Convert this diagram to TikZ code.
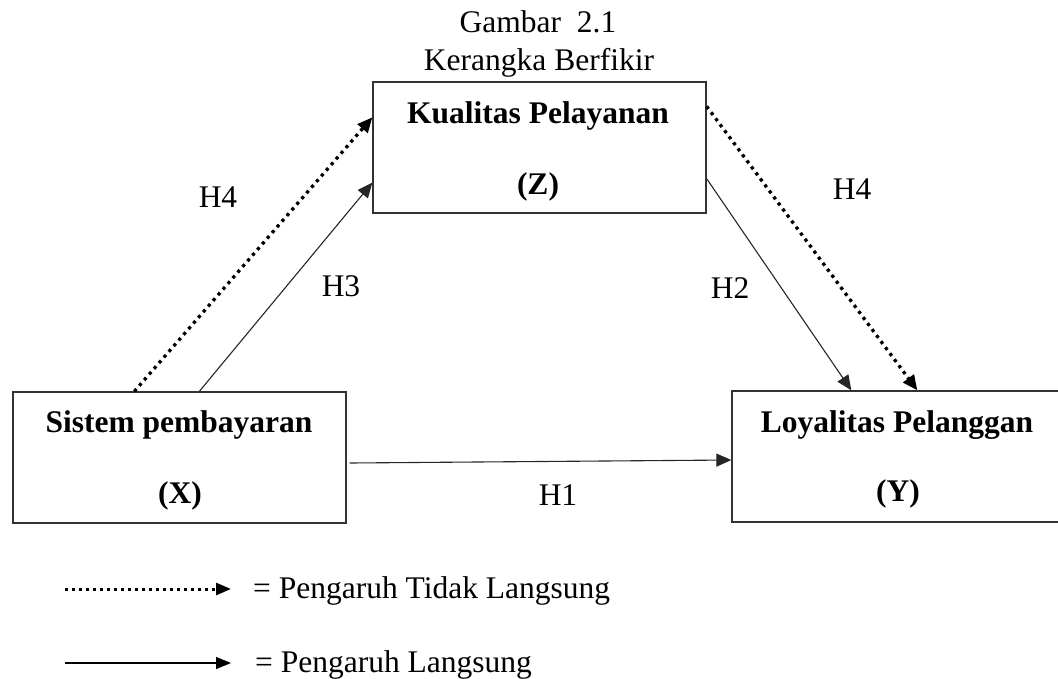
\documentclass[tikz,border=0pt]{standalone}
\usepackage{fontspec}
\setmainfont{Liberation Serif}
\usetikzlibrary{arrows.meta}
\begin{document}
\begin{tikzpicture}[x=1pt,y=-1pt,
  box/.style={draw=black!80,line width=1.3pt,rectangle,inner sep=0pt,minimum width=333pt,minimum height=131pt},
  txt/.style={inner sep=0pt,anchor=base,font=\fontsize{31.5}{36}\selectfont},
  btxt/.style={txt,font=\fontsize{31.5}{36}\selectfont\bfseries},
  ltxt/.style={txt,anchor=base west},
  direct/.style={draw=black!85,line width=1.1pt,-{Triangle[length=15pt,width=13pt]}},
  indirect/.style={draw=black,line width=3.3pt,dash pattern=on 3.2pt off 4.3pt,-{Triangle[length=15pt,width=13pt]}}
]
\useasboundingbox (0,0) rectangle (1058,678);
% title
\node[txt] (t1) at (538,32) {Gambar\ \ 2.1};
\node[txt] (t2) at (539,70) {Kerangka Berfikir};
% boxes
\node[box] (Z) at (539.5,147.5) {};
\node[box] (X) at (179.5,457.5) {};
\node[box,minimum width=330pt] (Y) at (897,456.5) {};
% box texts
\node[btxt] (zt) at (538,123) {Kualitas Pelayanan};
\node[btxt] (zv) at (538,194) {(Z)};
\node[btxt] (xt) at (179,432) {Sistem pembayaran};
\node[btxt] (xv) at (180,503) {(X)};
\node[btxt] (yt) at (897,432) {Loyalitas Pelanggan};
\node[btxt] (yv) at (898,501) {(Y)};
% connectors
\draw[direct] ([shift={(3pt,-5.5pt)}]X.east) -- ([yshift=-3.5pt]Y.west);
\draw[direct] ([xshift=187pt]X.north west) -- ([yshift=31pt]Z.south west);
\draw[indirect] ([xshift=122pt]X.north west) -- ([yshift=-36pt]Z.north west);
\draw[direct] ([yshift=35pt]Z.south east) -- ([xshift=120pt]Y.north west);
\draw[indirect] ([yshift=-25pt]Z.north east) -- ([xshift=186pt]Y.north west);
% labels
\node[txt] (h4a) at (218,207) {H4};
\node[txt] (h3) at (341,296) {H3};
\node[txt] (h4b) at (852,199) {H4};
\node[txt] (h2) at (730,298) {H2};
\node[txt] (h1) at (558,505) {H1};
% legend
\coordinate (la1) at (65,589);
\coordinate (la2) at (231,589);
\coordinate (lb1) at (65,663);
\coordinate (lb2) at (231,663);
\draw[indirect,line width=3pt,dash pattern=on 3pt off 4pt,-{Triangle[length=15pt,width=12pt]}] (la1) -- (la2);
\draw[direct,draw=black,line width=1.2pt,-{Triangle[length=15pt,width=12pt]}] (lb1) -- (lb2);
\node[ltxt] (lt1) at (253,598) {= Pengaruh Tidak Langsung};
\node[ltxt] (lt2) at (255,672) {= Pengaruh Langsung};
\end{tikzpicture}
\end{document}
